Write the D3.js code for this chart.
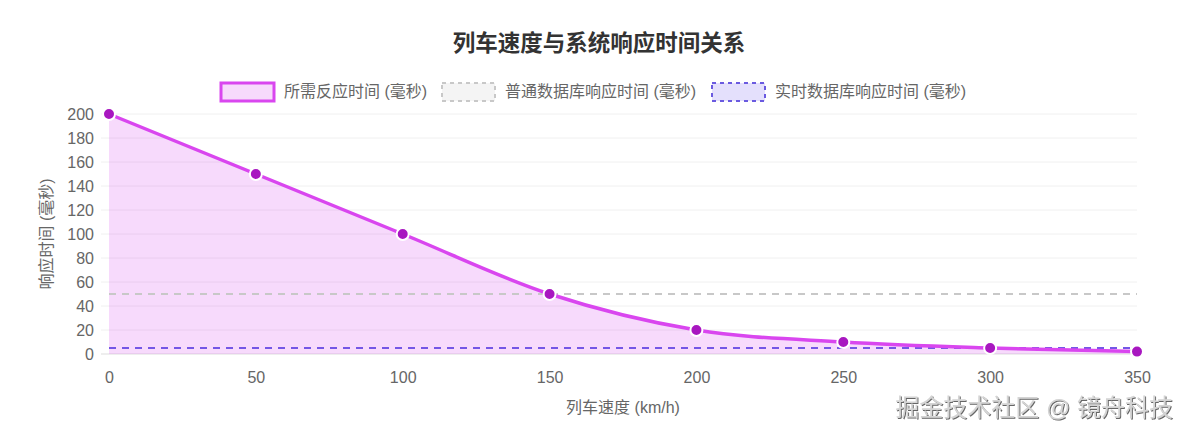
<!DOCTYPE html>
<html lang="zh">
<head>
<meta charset="UTF-8">
<title>列车速度与系统响应时间关系</title>
<script src="https://d3js.org/d3.v7.min.js"></script>
<style>
  html, body { margin: 0; padding: 0; background: #fff; }
  svg text { font-family: "Liberation Sans", Arial, "Noto Sans CJK SC", sans-serif; }
</style>
</head>
<body>
<script>
// data
var speeds = [0, 50, 100, 150, 200, 250, 300, 350];
var requiredTime = [200, 150, 100, 50, 20, 10, 5, 2];
var normalDbTime = 50;
var realtimeDbTime = 5;
var yTicks = [0, 20, 40, 60, 80, 100, 120, 140, 160, 180, 200];
var legendLabels = ["所需反应时间 (毫秒)", "普通数据库响应时间 (毫秒)", "实时数据库响应时间 (毫秒)"];

var W = 1189, H = 439;
var m = { left: 109, right: 1137, top: 114, bottom: 354 };

var svg = d3.select("body").append("svg")
    .attr("width", W)
    .attr("height", H);

var x = d3.scaleLinear().domain([0, 350]).range([m.left, m.right]);
var y = d3.scaleLinear().domain([0, 200]).range([m.bottom, m.top]);

// title
svg.append("text")
    .attr("x", 599).attr("y", 51)
    .attr("text-anchor", "middle")
    .attr("font-size", 22.5)
    .attr("font-weight", "bold")
    .attr("fill", "#333")
    .text("列车速度与系统响应时间关系");

// grid
svg.append("g")
    .selectAll("line")
    .data(yTicks)
    .join("line")
    .attr("x1", m.left - 8).attr("x2", m.right)
    .attr("y1", function (d) { return y(d); })
    .attr("y2", function (d) { return y(d); })
    .attr("stroke", function (d) { return d === 0 ? "#ddd" : "#f0f0f0"; })
    .attr("stroke-width", 1);

// y axis labels
var yAxis = d3.axisLeft(y).tickValues(yTicks).tickSize(0).tickPadding(15);
var gy = svg.append("g").attr("transform", "translate(" + m.left + ",0)").call(yAxis);
gy.select(".domain").remove();
gy.selectAll("text").attr("font-size", 16).attr("fill", "#666")
    .style("font-family", "'Liberation Sans', Arial, sans-serif");

// x axis labels
var xAxis = d3.axisBottom(x).tickValues(speeds).tickSize(0).tickPadding(18);
var gx = svg.append("g").attr("transform", "translate(0," + m.bottom + ")").call(xAxis);
gx.select(".domain").remove();
gx.selectAll("text").attr("font-size", 16).attr("fill", "#666")
    .style("font-family", "'Liberation Sans', Arial, sans-serif");

// axis titles
svg.append("text")
    .attr("transform", "translate(52," + ((m.top + m.bottom) / 2) + ") rotate(-90)")
    .attr("text-anchor", "middle")
    .attr("font-size", 16)
    .attr("fill", "#666")
    .text("响应时间 (毫秒)");

svg.append("text")
    .attr("x", (m.left + m.right) / 2).attr("y", 413)
    .attr("text-anchor", "middle")
    .attr("font-size", 16)
    .attr("fill", "#666")
    .text("列车速度 (km/h)");

var pts = speeds.map(function (s, i) { return [s, requiredTime[i]]; });

// fill area
var area = d3.area()
    .x(function (d) { return x(d[0]); })
    .y0(y(0))
    .y1(function (d) { return y(d[1]); })
    .curve(d3.curveMonotoneX);

svg.append("path")
    .datum(pts)
    .attr("d", area)
    .attr("fill", "rgba(217, 70, 239, 0.2)");

// reference lines
svg.append("line")
    .attr("x1", x(0)).attr("x2", x(350))
    .attr("y1", y(normalDbTime)).attr("y2", y(normalDbTime))
    .attr("stroke", "#c8c8c8")
    .attr("stroke-width", 2.2)
    .attr("stroke-dasharray", "7,6");

svg.append("line")
    .attr("x1", x(0)).attr("x2", x(350))
    .attr("y1", y(realtimeDbTime)).attr("y2", y(realtimeDbTime))
    .attr("stroke", "#7456e6")
    .attr("stroke-width", 2.2)
    .attr("stroke-dasharray", "7,6");

// main line
var line = d3.line()
    .x(function (d) { return x(d[0]); })
    .y(function (d) { return y(d[1]); })
    .curve(d3.curveMonotoneX);

svg.append("path")
    .datum(pts)
    .attr("d", line)
    .attr("fill", "none")
    .attr("stroke", "#d946ef")
    .attr("stroke-width", 3.5);

svg.append("g")
    .selectAll("circle")
    .data(pts)
    .join("circle")
    .attr("cx", function (d) { return x(d[0]); })
    .attr("cy", function (d) { return y(d[1]); })
    .attr("r", 6)
    .attr("fill", "#a817c0")
    .attr("stroke", "#fff")
    .attr("stroke-width", 2);

// legend
var legendItems = [
    { x: 221, fill: "rgba(217, 70, 239, 0.2)", stroke: "#d946ef", dash: null, sw: 3 },
    { x: 442, fill: "rgba(200, 200, 200, 0.2)", stroke: "#c8c8c8", dash: "4,4", sw: 2 },
    { x: 712, fill: "rgba(120, 100, 240, 0.2)", stroke: "#6a5ae0", dash: "4,4", sw: 2 }
];
var lg = svg.append("g");
legendItems.forEach(function (it, i) {
    lg.append("rect")
        .attr("x", it.x).attr("y", 83)
        .attr("width", 53).attr("height", 18)
        .attr("fill", it.fill)
        .attr("stroke", it.stroke)
        .attr("stroke-width", it.sw)
        .attr("stroke-dasharray", it.dash);
    lg.append("text")
        .attr("x", it.x + 63).attr("y", 97)
        .attr("font-size", 16)
        .attr("fill", "#666")
        .text(legendLabels[i]);
});

// watermark
var defs = svg.append("defs");
var f = defs.append("filter").attr("id", "wm").attr("x", "-5%").attr("y", "-20%")
    .attr("width", "110%").attr("height", "140%");
f.append("feDropShadow").attr("dx", 1).attr("dy", 1).attr("stdDeviation", 0.6)
    .attr("flood-color", "#555").attr("flood-opacity", 0.9);

svg.append("text")
    .attr("x", 1173).attr("y", 416)
    .attr("text-anchor", "end")
    .attr("font-size", 24)
    .attr("fill", "#d4d4d4")
    .attr("filter", "url(#wm)")
    .text("掘金技术社区 @ 镜舟科技");
</script>
</body>
</html>
